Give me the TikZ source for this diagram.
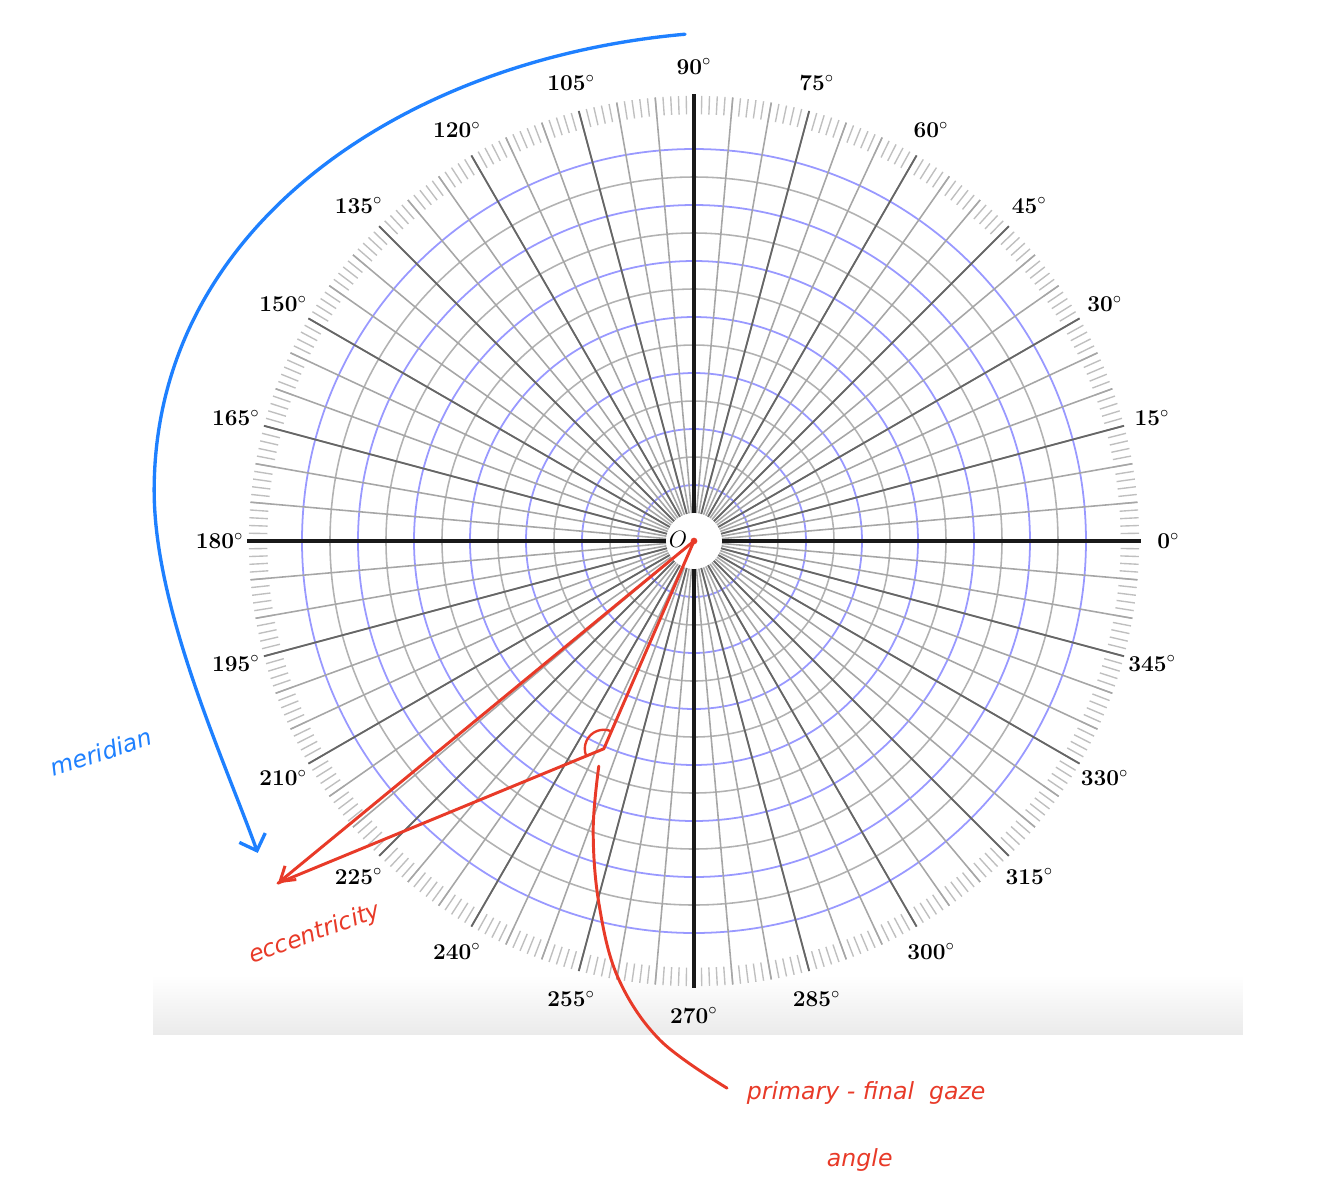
\documentclass[tikz,border=0pt]{standalone}
\usepackage{fontspec}
\usepackage{amsmath}
\usepackage{xcolor}
\usepackage{tikz}
\usetikzlibrary{arrows.meta}
\newfontfamily\hand{DejaVu Sans}
\definecolor{penred}{RGB}{232,58,40}
\definecolor{penblue}{RGB}{30,128,255}
\newcommand{\redtip}{-{Straight Barb[length=7pt,width=9pt]}}
\newcommand{\bluetip}{-{Straight Barb[length=7pt,width=14pt]}}
\tikzset{
  degl/.style={font=\fontsize{11.5}{13}\selectfont\bfseries},
  redpen/.style={penred,line width=1.5pt,line cap=round,line join=round},
  bluepen/.style={penblue,line width=1.7pt,line cap=round},
  handtext/.style={font=\hand\itshape\fontsize{12}{14}\selectfont}
}

\begin{document}
\begin{tikzpicture}
    \useasboundingbox (-12.393,-11.768) rectangle (11.411,9.661);
    \shade[top color=white,bottom color=black!8] (-9.66,-7.75) rectangle (9.80,-8.82);
    \foreach \r in {1.5,2.5,...,6.5} \draw[black!30,line width=0.8pt] (0,0) circle (\r);
    \foreach \r in {1,...,7} \draw[blue!40,line width=0.9pt] (0,0) circle (\r);
    \foreach \a in {0,...,359} \draw[black!25,line width=0.7pt] (\a:7.62) -- (\a:7.95);
    \foreach \a in {5,10,...,355} \draw[black!35,line width=0.8pt] (\a:0.5) -- (\a:7.95);
    \foreach \a in {15,30,...,345} \draw[black!60,line width=0.9pt] (\a:0.5) -- (\a:7.95);
    \foreach \a in {0,90,180,270} \draw[black!90,line width=1.6pt] (\a:0.5) -- (\a:7.98);
    \foreach \a in {0,15,...,345} \node[degl] (l\a) at (\a:8.47) {\a$^{\circ}$};
    \coordinate (O) at (0,0);
    \coordinate (P) at (-1.61,-3.71);
    \coordinate (T) at (-7.43,-6.11);
    \fill[penred] (O) circle (0.06);
    \node[left,inner sep=1pt,font=\fontsize{12}{14}\selectfont] (o) at (-0.08,0.02) {$O$};
    \draw[redpen,\redtip] (O) -- (T);
    \draw[redpen] (O) -- (P) -- (T);
    \draw[redpen,line width=1.2pt] (P) ++(66:0.34) arc[start angle=66,end angle=202,radius=0.34];
    \node[handtext,penred,rotate=20,inner sep=0pt] (ecc) at (-6.77,-7.02) {eccentricity};
    \node[handtext,penred,anchor=west] (pf) at (0.82,-9.85) {primary - final \ gaze};
    \node[handtext,penred] (ang) at (2.96,-11.05) {angle};
    \coordinate (gz) at (-1.70,-4.02);
    \coordinate (pe) at (0.59,-9.77);
    \draw[redpen] plot[smooth,tension=0.6] coordinates {(gz) (-1.80,-5.16) (-1.70,-6.46) (-1.36,-7.79) (-0.61,-8.91) (pe)};
    \coordinate (ms) at (-0.16,9.05);
    \coordinate (mw) at (-9.64,0.9);
    \coordinate (me) at (-7.79,-5.57);
    \draw[bluepen,\bluetip] (ms) .. controls (-5.2,8.6) and (-9.64,5.6) .. (mw)
        .. controls (-9.64,-1.2) and (-8.4,-3.88) .. (me);
    \node[handtext,penblue,rotate=18] (mer) at (-10.59,-3.77) {meridian};
\end{tikzpicture}
\end{document}
